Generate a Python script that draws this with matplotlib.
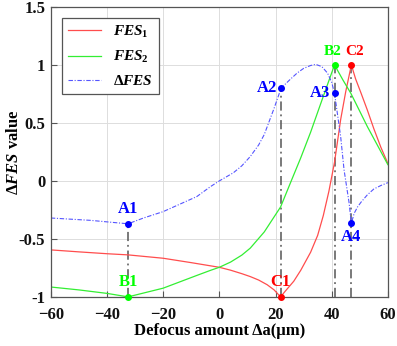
import matplotlib
matplotlib.use("Agg")
from matplotlib import pyplot as plt

# 字体: 粗体衬线
plt.rcParams['font.family'] = ['Liberation Serif', 'DejaVu Serif']
plt.rcParams['font.weight'] = 'bold'
plt.rcParams['mathtext.fontset'] = 'custom'
plt.rcParams['mathtext.rm'] = 'Liberation Serif:bold'
plt.rcParams['mathtext.it'] = 'Liberation Serif:italic:bold'
plt.rcParams['mathtext.bf'] = 'Liberation Serif:bold'

# 数据
x_fes1 = [-60, -50, -40, -32.5, -20, -10, -3, 0, 4, 8, 11, 14, 17, 19.5, 21.8,
          23.5, 26.5, 29, 32.5, 35, 37, 39, 41, 43.2, 45, 47,
          48.5, 50.4, 52.7, 55, 57.5, 60]
fes1 = [-0.595, -0.612, -0.628, -0.638, -0.667, -0.705, -0.733, -0.745, -0.77, -0.8, -0.825, -0.855, -0.895, -0.94, -1.0,
        -0.95, -0.865, -0.77, -0.615, -0.47, -0.3, -0.09, 0.16, 0.53, 0.77, 1.0,
        0.88, 0.76, 0.61, 0.45, 0.29, 0.15]

x_fes2 = [-60, -50, -40, -32.5, -25, -20, -14, -8, -3, 0, 4, 8, 11, 16, 21.8,
          25.6, 29, 32.5, 36, 38.5, 41,
          44, 46.8, 50, 52.7, 56, 60]
fes2 = [-0.915, -0.94, -0.97, -1.0, -0.955, -0.925, -0.87, -0.815, -0.77, -0.745, -0.7, -0.64, -0.58, -0.44, -0.225,
        0.0, 0.2, 0.42, 0.66, 0.83, 1.0,
        0.87, 0.756, 0.6, 0.468, 0.32, 0.14]

x_dfes = [-60, -46, -32.5, -27, -20, -14, -8, -3.2, 0, 5, 8, 11, 14, 16, 19.4, 22,
          25, 27.7, 30, 32.5, 34.3, 36.5, 38.5, 40, 41,
          43.2, 44.4, 46.2, 47, 48, 49.2, 50.4, 52.7, 55, 57.5, 60]
dfes = [-0.32, -0.34, -0.37, -0.32, -0.265, -0.2, -0.135, -0.05, 0.0, 0.07, 0.13, 0.21, 0.31, 0.4, 0.62, 0.80,
        0.87, 0.93, 0.97, 0.995, 1.005, 0.985, 0.93, 0.85, 0.756,
        0.38, 0.095, -0.19, -0.365, -0.28, -0.225, -0.185, -0.12, -0.07, -0.04, -0.015]

# 标记点
pt_names = ['A1', 'B1', 'C1', 'A2', 'A3', 'B2', 'C2', 'A4']
pt_x = [-32.5, -32.5, 21.8, 22, 41, 41, 47, 47]
pt_y = [-0.37, -1.0, -1.0, 0.80, 0.756, 1.0, 1.0, -0.365]
pt_color = ['#0000ff', '#00ff00', '#ff0000', '#0000ff', '#0000ff', '#00ff00', '#ff0000', '#0000ff']
pt_size = [12, 12, 12, 12, 12, 11, 11, 12]
pt_offset = [(0, 5), (0, 5), (0, 5), (-3, 0), (-3, 0), (-1, 5), (2, 5), (0, -4)]
pt_ha = ['center', 'center', 'center', 'right', 'right', 'center', 'center', 'center']
pt_va = ['bottom', 'bottom', 'bottom', 'center', 'center', 'bottom', 'bottom', 'top']

# 竖直点划线
vline_x = [-32.5, 22, 41, 47]
vline_top = [-0.37, 0.80, 1.0, 1.0]

x_ticks = [-60, -40, -20, 0, 20, 40, 60]
y_ticks = [-1, -0.5, 0, 0.5, 1, 1.5]
y_tick_labels = ['-1', '-0.5', '0', '0.5', '1', '1.5']

fig = plt.figure(figsize=(3.97, 3.46), dpi=100)
ax = fig.add_axes([0.128, 0.142, 0.849, 0.838])

ax.grid(True, color='#dddddd', linewidth=0.7)
ax.set_axisbelow(True)

for xv, yt in zip(vline_x, vline_top):
    ax.plot([xv, xv], [-1, yt], color='#555555', linestyle=(0, (6, 2.5, 1.2, 2.5)), linewidth=1.1)

ax.plot(x_fes1, fes1, color='#ff4d4d', linewidth=0.9, label='$FES_{\\mathit{1}}$')
ax.plot(x_fes2, fes2, color='#33ee33', linewidth=0.9, label='$FES_{\\mathit{2}}$')
ax.plot(x_dfes, dfes, color='#5555ff', linewidth=0.8, linestyle=(0, (4, 1.5, 1, 1.5)), label='$\\Delta\\mathit{FES}$')

for n, xv, yv, c, fs, off, ha, va in zip(pt_names, pt_x, pt_y, pt_color, pt_size, pt_offset, pt_ha, pt_va):
    ax.plot(xv, yv, 'o', color=c, markersize=4, clip_on=False, zorder=5)
    ax.annotate(n, (xv, yv), xytext=off, textcoords='offset points',
                ha=ha, va=va, color=c, fontsize=fs, fontweight='bold')

ax.set_xlim(-60, 60)
ax.set_ylim(-1, 1.5)
ax.set_xticks(x_ticks)
ax.set_yticks(y_ticks)
ax.set_yticklabels(y_tick_labels)
ax.tick_params(direction='in', labelsize=12, labelcolor='#111111', length=4, width=0.8, color='#555555')
ax.tick_params(axis='x', pad=7)
ax.tick_params(axis='y', pad=4)
for s in ax.spines.values():
    s.set_color('#555555')
    s.set_linewidth(0.9)

ax.set_xlabel('Defocus amount Δa(μm)', fontsize=12, fontweight='bold', labelpad=0)
ax.set_ylabel('Δ$\\mathit{FES}$ value', fontsize=12, fontweight='bold', labelpad=-2)

leg = ax.legend(loc='upper left', fontsize=11, handlelength=2.2, borderaxespad=0.7,
                fancybox=False, framealpha=1, edgecolor='#555555', labelspacing=0.6)
leg.get_frame().set_linewidth(0.9)

plt.savefig('out.png', dpi=100)
